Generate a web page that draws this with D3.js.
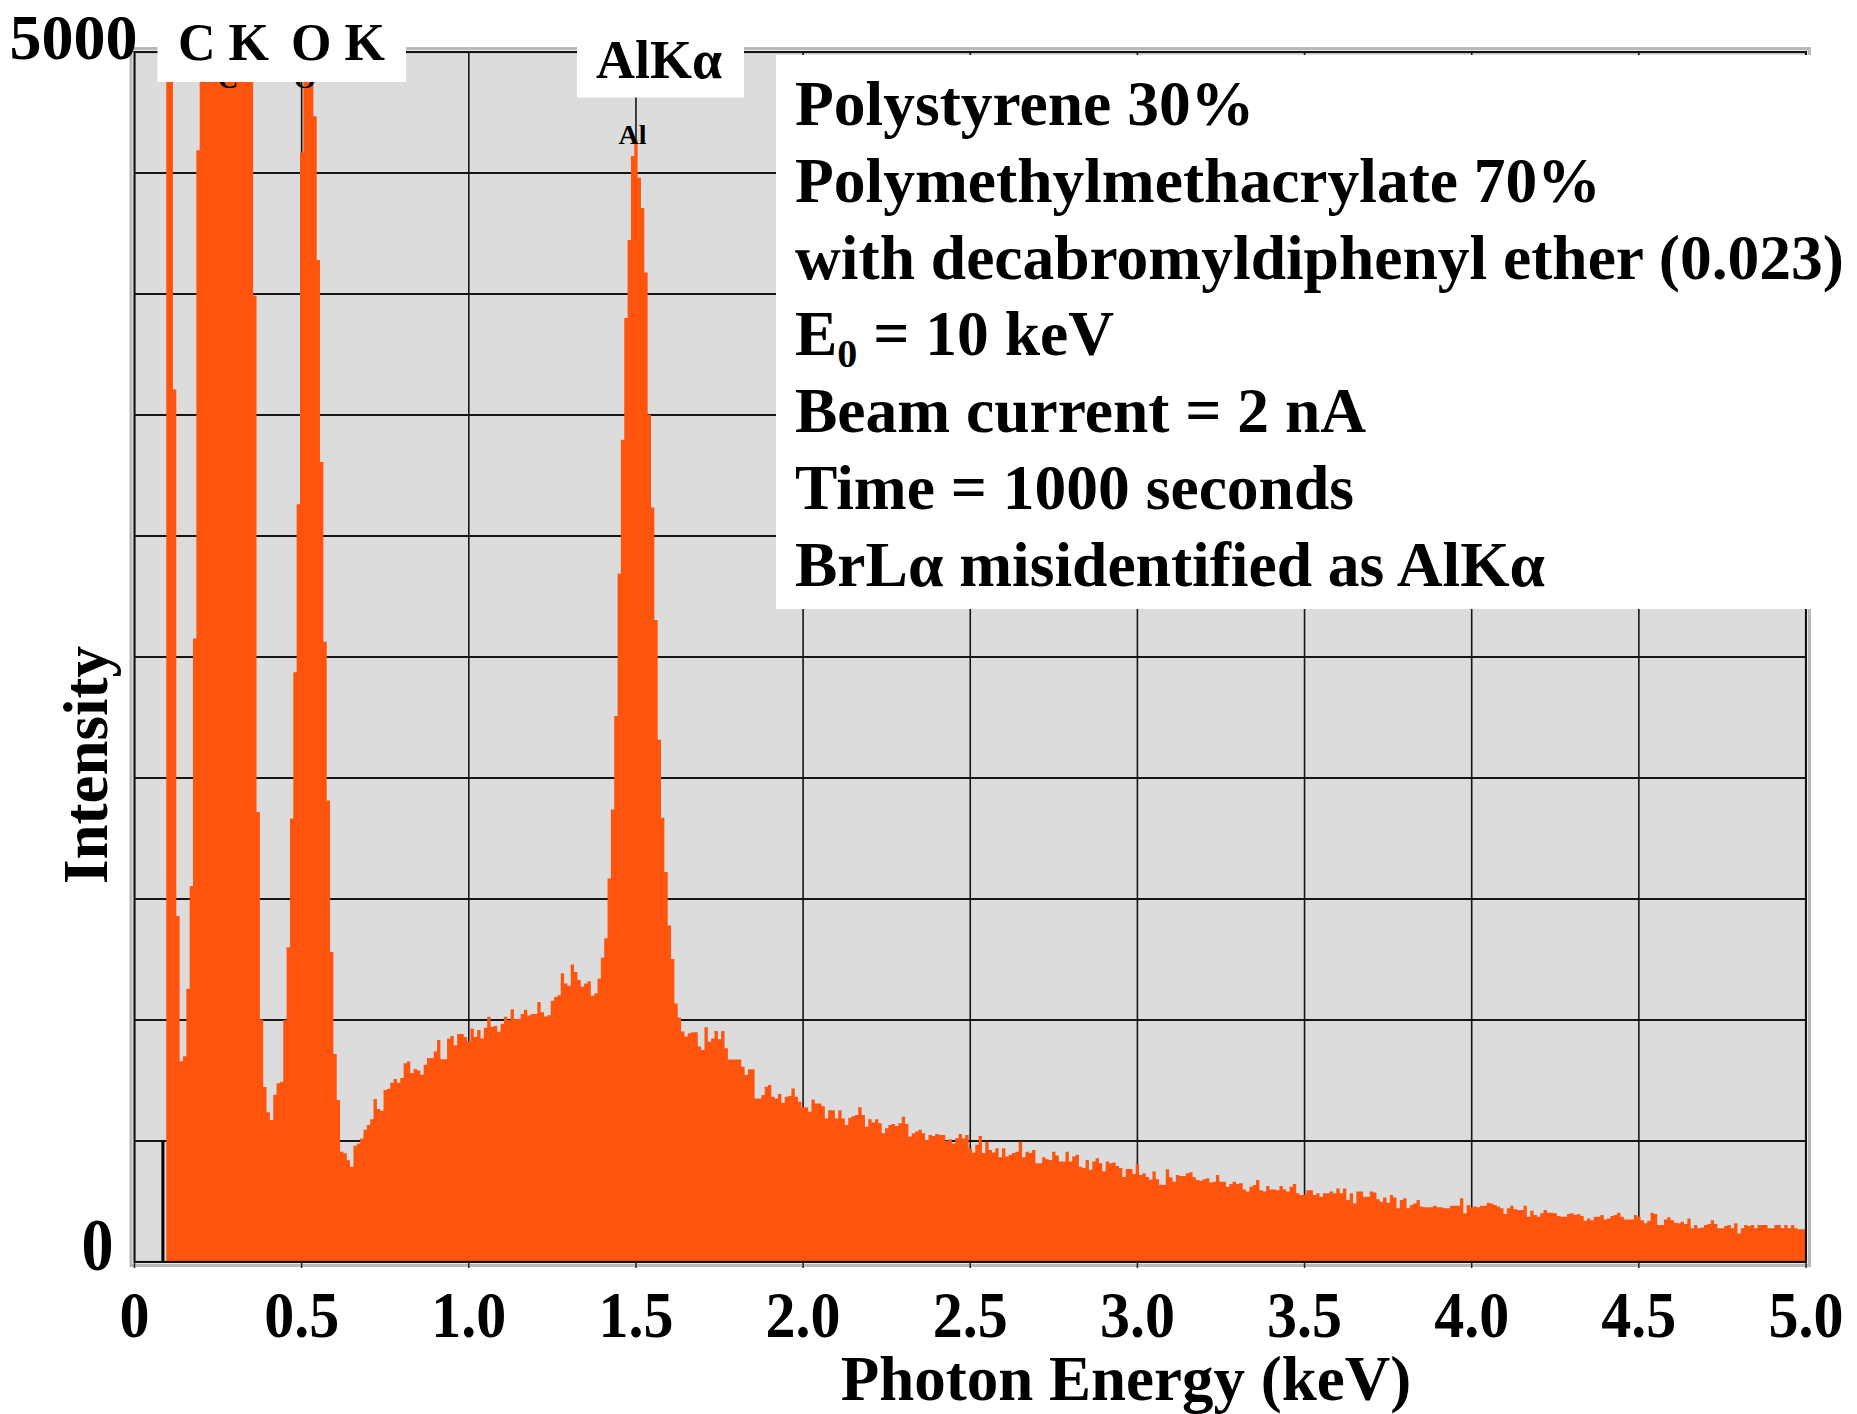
<!DOCTYPE html>
<html>
<head>
<meta charset="utf-8">
<script src="https://cdn.jsdelivr.net/npm/d3@7"></script>
<style>
  html, body { margin: 0; padding: 0; background: #ffffff; }
  svg { display: block; }
  text { font-family: "Liberation Serif", "Times New Roman", serif; font-weight: bold; fill: #000; }
</style>
</head>
<body>
<svg id="chart" width="1857" height="1414"></svg>
<script>
// EDS spectrum, 10 eV channels; first channel centred at 0.10 keV
const channelStart = 0.10;
const channelWidth = 0.01;

// counts per channel, 0.10 – 0.99 keV (C K and O K peaks run off scale)
const counts0 = [
  6400, 5800, 3605, 1430, 830, 850, 1129, 1554, 2576, 4594,
  7800, 10500, 13600, 16500, 19000, 20800, 21600, 21500, 20400, 18600,
  16200, 13400, 10600, 8200, 6300, 5200, 3994, 1859, 1002, 723,
  619, 587, 691, 739, 745, 1000, 1301, 1833, 2437, 3131,
  4585, 5300, 5600, 5250, 4734, 4140, 3306, 2563, 1907, 1281,
  859, 669, 456, 449, 420, 394, 480, 490, 510, 546,
  566, 590, 674, 632, 625, 711, 716, 741, 756, 741,
  760, 821, 829, 780, 798, 791, 774, 815, 843, 843,
  870, 917, 838, 838, 923, 934, 896, 942, 942, 930
];
// 1.00 – 1.99 keV (Br L alpha peak near 1.49 keV)
const counts1 = [
  910, 965, 931, 959, 924, 968, 1013, 972, 975, 951,
  985, 1013, 1000, 1044, 1004, 1004, 1025, 1042, 1019, 1025,
  1025, 1074, 1032, 1014, 1020, 1080, 1095, 1102, 1193, 1151,
  1142, 1229, 1198, 1165, 1137, 1151, 1160, 1100, 1109, 1170,
  1257, 1338, 1585, 1870, 2256, 2844, 3398, 3901, 4223, 4570,
  4640, 4480, 4355, 4089, 3501, 3118, 2653, 2158, 1836, 1612,
  1390, 1252, 1068, 1010, 952, 932, 945, 949, 949, 890,
  876, 970, 910, 924, 955, 920, 955, 883, 837, 837,
  837, 837, 807, 773, 796, 796, 676, 676, 690, 724,
  731, 683, 676, 694, 658, 683, 686, 717, 683, 662
];
// 2.00 – 2.99 keV
const counts2 = [
  639, 639, 621, 672, 655, 655, 644, 593, 627, 627,
  593, 627, 593, 566, 596, 602, 607, 639, 607, 559,
  590, 576, 590, 573, 532, 553, 566, 570, 562, 573,
  600, 570, 519, 532, 539, 546, 532, 504, 525, 521,
  529, 525, 525, 501, 507, 490, 511, 529, 511, 525,
  470, 452, 484, 521, 450, 497, 463, 452, 470, 433,
  470, 436, 443, 450, 456, 497, 433, 456, 450, 463,
  408, 408, 433, 425, 422, 456, 440, 415, 415, 456,
  415, 436, 443, 394, 388, 422, 381, 415, 429, 408,
  374, 415, 408, 411, 397, 388, 351, 384, 384, 364
];
// 3.00 – 3.99 keV
const counts3 = [
  405, 360, 367, 351, 340, 374, 342, 319, 318, 383,
  350, 332, 360, 355, 355, 367, 371, 350, 339, 336,
  342, 346, 328, 332, 360, 332, 332, 311, 322, 332,
  322, 325, 300, 291, 311, 318, 339, 297, 291, 314,
  300, 300, 297, 314, 300, 291, 311, 322, 284, 277,
  277, 297, 297, 277, 284, 270, 284, 284, 291, 284,
  304, 284, 304, 256, 284, 242, 291, 291, 270, 270,
  291, 287, 259, 249, 267, 245, 277, 267, 222, 256,
  263, 222, 236, 242, 256, 229, 226, 226, 226, 232,
  226, 226, 222, 222, 232, 232, 232, 263, 201, 236
];
// 4.00 – 5.00 keV
const counts4 = [
  226, 229, 226, 232, 232, 245, 242, 236, 229, 222,
  198, 222, 232, 218, 215, 215, 232, 187, 212, 194,
  187, 201, 215, 204, 204, 201, 190, 187, 187, 198,
  201, 194, 198, 190, 170, 180, 173, 187, 187, 194,
  176, 180, 190, 194, 204, 187, 176, 176, 176, 194,
  187, 173, 160, 170, 204, 198, 153, 153, 176, 185,
  173, 162, 160, 166, 157, 180, 139, 153, 139, 143,
  153, 157, 173, 157, 139, 139, 149, 153, 139, 160,
  118, 139, 153, 149, 153, 139, 153, 153, 153, 139,
  139, 153, 153, 139, 153, 139, 153, 139, 135, 135,
  135
];

const xTickValues = [0, 0.5, 1.0, 1.5, 2.0, 2.5, 3.0, 3.5, 4.0, 4.5, 5.0];
const xTickLabels = ["0", "0.5", "1.0", "1.5", "2.0", "2.5", "3.0", "3.5", "4.0", "4.5", "5.0"];
const yTickValues = [0, 5000];
const yTickLabels = ["0", "5000"];
const yGridValues = [500, 1000, 1500, 2000, 2500, 3000, 3500, 4000, 4500];
const xGridValues = [0.5, 1.0, 1.5, 2.0, 2.5, 3.0, 3.5, 4.0, 4.5];

// KLM element markers and the cursor line at the low-energy end
const elementMarkers = [
  { symbol: "C", energy: 0.28 },
  { symbol: "O", energy: 0.51 },
  { symbol: "Al", energy: 1.49 }
];
const cursorEnergy = 0.085;
const cursorTop = 500;

const infoLines = [
  [{ t: "Polystyrene 30%" }],
  [{ t: "Polymethylmethacrylate 70%" }],
  [{ t: "with decabromyldiphenyl ether (0.023)" }],
  [{ t: "E" }, { t: "0", sub: true }, { t: " = 10 keV" }],
  [{ t: "Beam current = 2 nA" }],
  [{ t: "Time = 1000 seconds" }],
  [{ t: "BrL\u03b1 misidentified as AlK\u03b1" }]
];

const counts = [].concat(counts0, counts1, counts2, counts3, counts4);

// ---- layout ----
const plot = { left: 134.5, right: 1806, top: 52, bottom: 1262 };
const orange = "#FF540E";

const svg = d3.select("#chart");
const x = d3.scaleLinear().domain([0, 5]).range([plot.left, plot.right]);
const y = d3.scaleLinear().domain([0, 5000]).range([plot.bottom, plot.top]);

svg.append("rect").attr("width", 1857).attr("height", 1414).attr("fill", "#fff");

// outer light frame
svg.append("rect")
  .attr("x", plot.left - 3.5).attr("y", plot.top - 3.5)
  .attr("width", plot.right - plot.left + 7).attr("height", plot.bottom - plot.top + 7)
  .attr("fill", "none").attr("stroke", "#b9b9b9").attr("stroke-width", 3);

// plot background
svg.append("rect")
  .attr("x", plot.left).attr("y", plot.top)
  .attr("width", plot.right - plot.left).attr("height", plot.bottom - plot.top)
  .attr("fill", "#dcdcdc");

const grid = svg.append("g").attr("stroke", "#161616");
grid.selectAll("line.h").data(yGridValues).join("line")
  .attr("class", "h")
  .attr("x1", plot.left).attr("x2", plot.right)
  .attr("y1", d => y(d)).attr("y2", d => y(d))
  .attr("stroke-width", 2);
grid.selectAll("line.v").data(xGridValues).join("line")
  .attr("class", "v")
  .attr("x1", d => x(d)).attr("x2", d => x(d))
  .attr("y1", plot.top).attr("y2", plot.bottom)
  .attr("stroke-width", 1.6);

// clip for the spectrum
svg.append("clipPath").attr("id", "plotClip")
  .append("rect")
  .attr("x", plot.left).attr("y", plot.top)
  .attr("width", plot.right - plot.left).attr("height", plot.bottom - plot.top);

// histogram as a stepped area: each point is a channel's left edge
const steps = counts.map((c, i) => ({ e: channelStart + i * channelWidth - channelWidth / 2, c }));
steps.push({ e: steps[steps.length - 1].e + channelWidth, c: counts[counts.length - 1] });

const area = d3.area()
  .x(d => x(d.e))
  .y0(y(0))
  .y1(d => y(d.c))
  .curve(d3.curveStepAfter);

svg.append("path")
  .datum(steps)
  .attr("clip-path", "url(#plotClip)")
  .attr("fill", orange)
  .attr("d", area);

// cursor line
svg.append("line")
  .attr("x1", x(cursorEnergy)).attr("x2", x(cursorEnergy))
  .attr("y1", y(cursorTop)).attr("y2", y(0))
  .attr("stroke", "#000").attr("stroke-width", 3);

// element marker labels sit just above the channel they mark
svg.append("g").selectAll("text").data(elementMarkers).join("text")
  .attr("x", d => x(d.energy))
  .attr("y", d => {
    const idx = Math.round((d.energy - channelStart) / channelWidth);
    return Math.max(y(counts[idx]) - 12, 88);
  })
  .attr("text-anchor", "middle")
  .style("font-size", "28px")
  .text(d => d.symbol);

// dark inner border
svg.append("rect")
  .attr("x", plot.left).attr("y", plot.top)
  .attr("width", plot.right - plot.left).attr("height", plot.bottom - plot.top)
  .attr("fill", "none").attr("stroke", "#111").attr("stroke-width", 2.2);

// x tick marks
svg.append("g").selectAll("line").data(xTickValues).join("line")
  .attr("x1", d => x(d)).attr("x2", d => x(d))
  .attr("y1", plot.bottom).attr("y2", plot.bottom + 6)
  .attr("stroke", "#222").attr("stroke-width", 1.5);

// x tick labels
svg.append("g").selectAll("text").data(xTickValues).join("text")
  .attr("transform", d => `translate(${x(d)},1337) scale(1,1.08)`)
  .attr("text-anchor", "middle")
  .style("font-size", "60px")
  .text((d, i) => xTickLabels[i]);

// y tick labels
svg.append("g").selectAll("text").data(yTickValues).join("text")
  .attr("transform", (d, i) => i === 0
    ? `translate(${plot.left - 21},${y(d) + 8}) scale(1,1.15)`
    : `translate(${plot.left + 3},${y(d) + 7})`)
  .attr("text-anchor", "end")
  .style("font-size", "64px")
  .text((d, i) => yTickLabels[i]);

// line label boxes at the top of the plot
svg.append("rect").attr("x", 157.5).attr("y", 30).attr("width", 248.5).attr("height", 52).attr("fill", "#fff");
svg.append("text").attr("x", 178).attr("y", 60).style("font-size", "52px").text("C K");
svg.append("text").attr("x", 291).attr("y", 60).style("font-size", "52px").text("O K");

svg.append("rect").attr("x", 577).attr("y", 30).attr("width", 167).attr("height", 67.5).attr("fill", "#fff");
svg.append("text").attr("x", 596).attr("y", 78).style("font-size", "54px").text("AlK\u03b1");

// specimen / acquisition panel
svg.append("rect").attr("x", 776).attr("y", 55).attr("width", 1081).attr("height", 554).attr("fill", "#fff");
const info = svg.append("g");
infoLines.forEach((parts, i) => {
  const t = info.append("text")
    .attr("x", 795).attr("y", 125 + i * 76.8)
    .style("font-size", "63.5px");
  parts.forEach(p => {
    if (p.sub) {
      t.append("tspan").attr("dy", 12).style("font-size", "40px").text(p.t);
    } else {
      const s = t.append("tspan").text(p.t);
      if (parts.length > 1 && p !== parts[0]) s.attr("dy", -12);
    }
  });
});

// axis titles
svg.append("text")
  .attr("x", 1126).attr("y", 1400)
  .attr("text-anchor", "middle")
  .style("font-size", "63px")
  .text("Photon Energy (keV)");

svg.append("text")
  .attr("transform", "translate(107,765) rotate(-90)")
  .attr("text-anchor", "middle")
  .style("font-size", "63px")
  .text("Intensity");
</script>
</body>
</html>
